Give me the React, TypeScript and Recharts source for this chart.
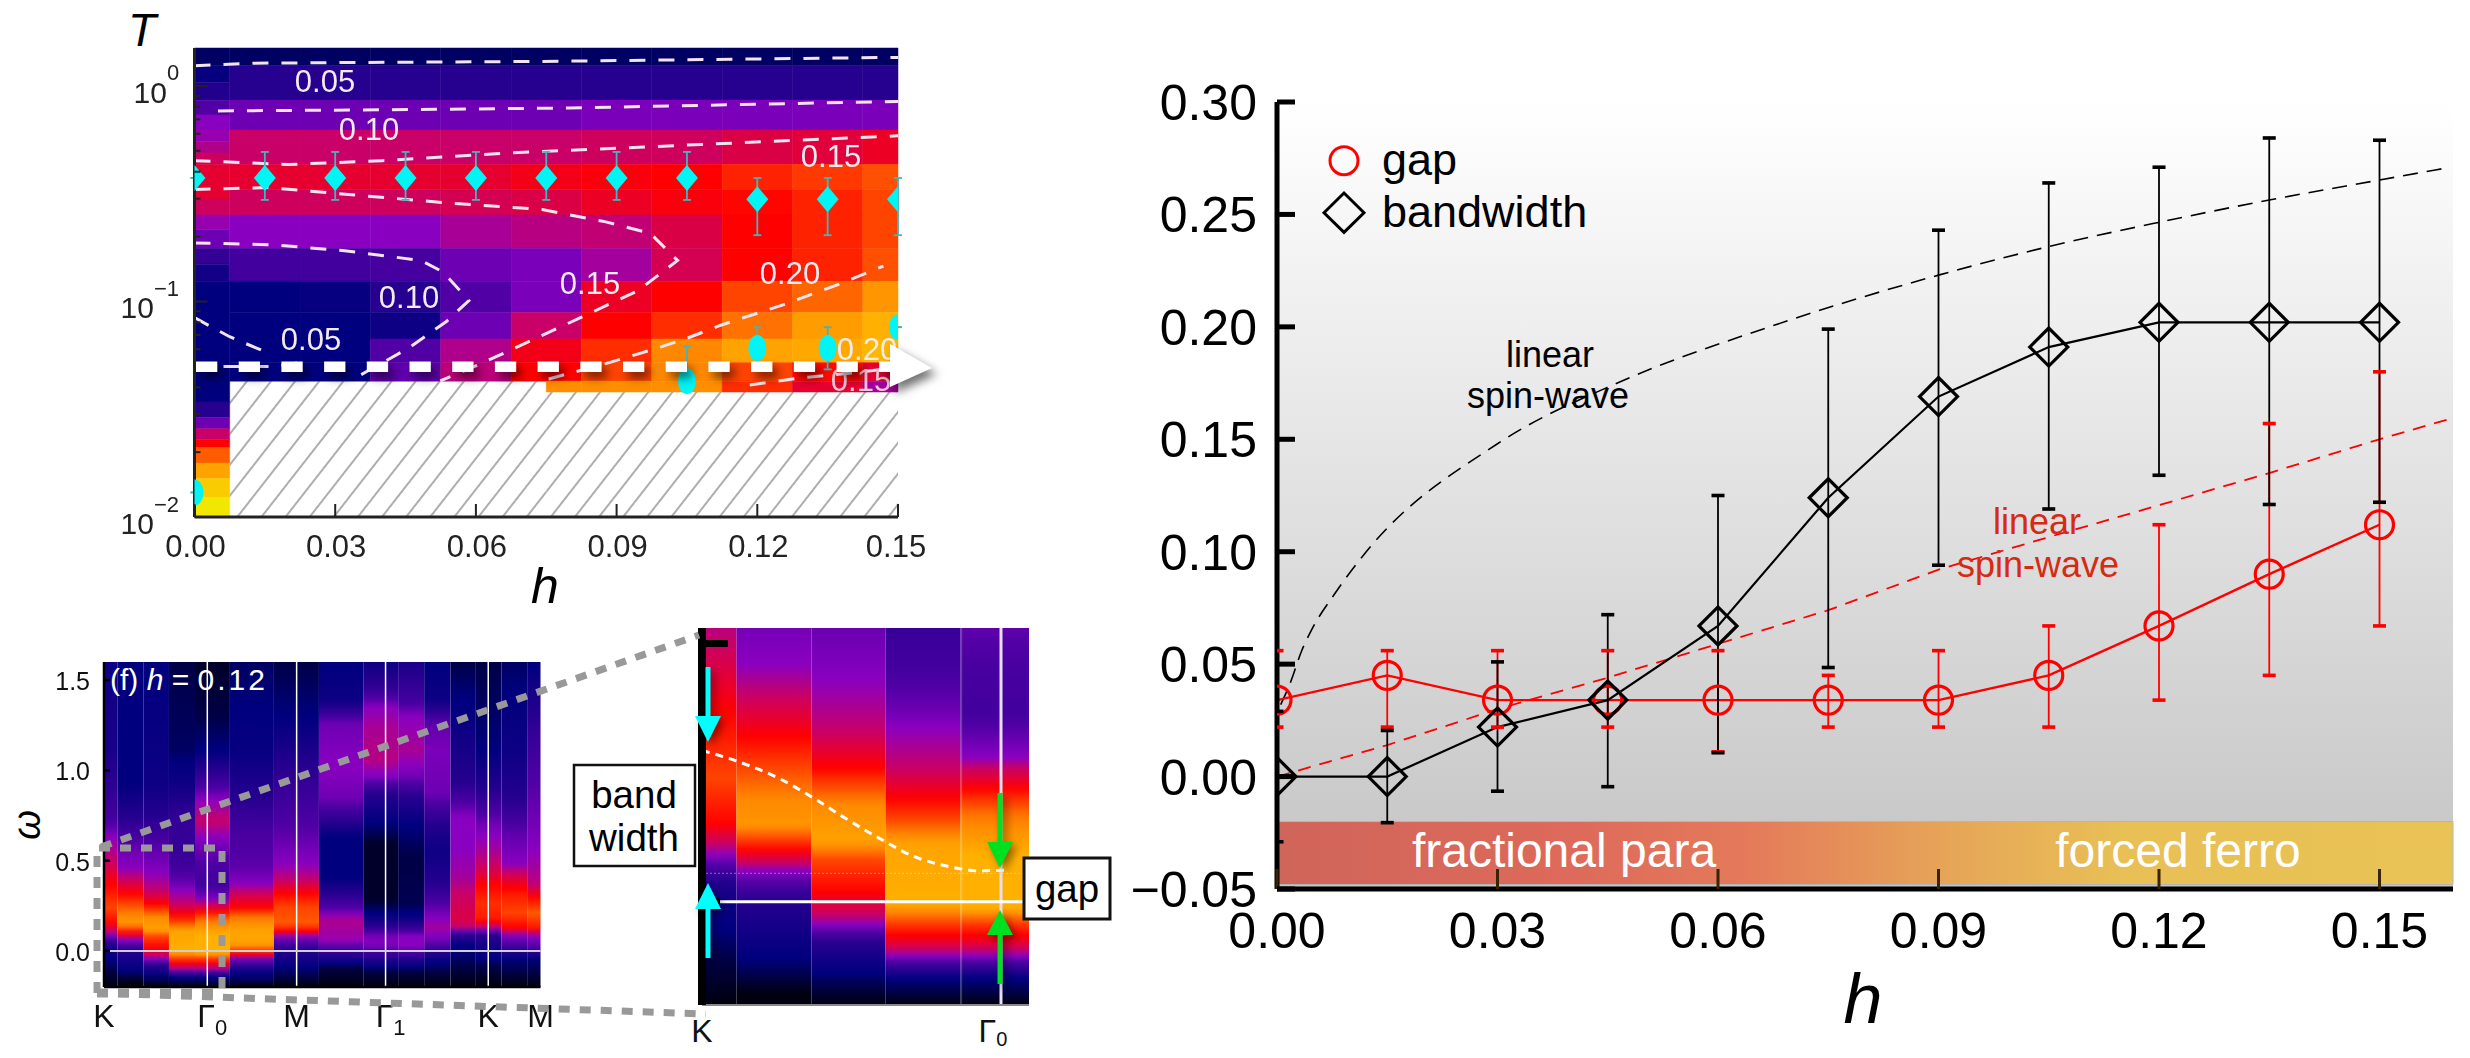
import React from 'react'
import { ComposedChart, Line, XAxis, YAxis, ReferenceArea, ReferenceLine, ErrorBar } from 'recharts'

const FONT = '"Liberation Sans", Arial, sans-serif'

// ---------- right panel: gap and bandwidth against h ----------
const fields = [0, 0.015, 0.03, 0.045, 0.06, 0.075, 0.09, 0.105, 0.12, 0.135, 0.15]
const gap = [0.034, 0.045, 0.034, 0.034, 0.034, 0.034, 0.034, 0.045, 0.067, 0.09, 0.112]
const gapHigh = [0.056, 0.056, 0.056, 0.056, 0.056, 0.045, 0.056, 0.067, 0.112, 0.157, 0.18]
const gapLow = [0.022, 0.022, 0.022, 0.022, 0.011, 0.022, 0.022, 0.022, 0.034, 0.045, 0.067]
const bandwidth = [0, 0, 0.022, 0.034, 0.067, 0.124, 0.169, 0.191, 0.202, 0.202, 0.202]
const bandHigh = [0.029, 0.0205, 0.051, 0.072, 0.125, 0.199, 0.243, 0.264, 0.271, 0.284, 0.283]
const bandLow = [-0.029, -0.0205, -0.0065, -0.0045, 0.0106, 0.0485, 0.094, 0.119, 0.134, 0.121, 0.122]
const spinWaveBand = [
  { h: 0.0005, y: 0.032 }, { h: 0.0018, y: 0.0416 }, { h: 0.0034, y: 0.0563 }, { h: 0.0047, y: 0.0652 },
  { h: 0.0079, y: 0.0815 }, { h: 0.0116, y: 0.0978 }, { h: 0.03, y: 0.148 }, { h: 0.0467, y: 0.1756 },
  { h: 0.067, y: 0.2 }, { h: 0.09, y: 0.223 }, { h: 0.105, y: 0.2357 }, { h: 0.12, y: 0.2465 },
  { h: 0.135, y: 0.2564 }, { h: 0.15, y: 0.2653 }, { h: 0.159, y: 0.2706 },
]
const spinWaveGap = [
  { h: 0, y: 0 }, { h: 0.015, y: 0.014 }, { h: 0.03, y: 0.03 }, { h: 0.045, y: 0.044 }, { h: 0.06, y: 0.059 },
  { h: 0.075, y: 0.074 }, { h: 0.09, y: 0.092 }, { h: 0.105, y: 0.1065 }, { h: 0.12, y: 0.1207 },
  { h: 0.135, y: 0.135 }, { h: 0.15, y: 0.15 }, { h: 0.1595, y: 0.159 },
]
const hTicks = [0, 0.03, 0.06, 0.09, 0.12, 0.15]
const energyTicks = [-0.05, 0, 0.05, 0.1, 0.15, 0.2, 0.25, 0.3]

const mainRows = fields.map((h, i) => ({
  h,
  gap: gap[i],
  gapHigh: gapHigh[i],
  gapLow: gapLow[i],
  gapErr: [gap[i] - gapLow[i], gapHigh[i] - gap[i]],
  bandwidth: bandwidth[i],
  bandHigh: bandHigh[i],
  bandLow: bandLow[i],
  bandErr: [bandwidth[i] - bandLow[i], bandHigh[i] - bandwidth[i]],
}))

// ---------- top left: T-h map ----------
const rowEdges = [1.5, 1.24, 0.86, 0.625, 0.432, 0.33, 0.252, 0.176, 0.124, 0.089, 0.067, 0.052, 0.0427, 0.038]
const mapValues = [
  [0.015, 0.015, 0.015, 0.015, 0.015, 0.015, 0.015, 0.015, 0.015, 0.015],
  [0.05, 0.05, 0.05, 0.05, 0.05, 0.05, 0.05, 0.05, 0.05, 0.05],
  [0.09, 0.09, 0.09, 0.09, 0.09, 0.095, 0.095, 0.095, 0.095, 0.095],
  [0.125, 0.125, 0.125, 0.125, 0.125, 0.13, 0.13, 0.14, 0.145, 0.155],
  [0.15, 0.15, 0.15, 0.15, 0.16, 0.165, 0.17, 0.185, 0.195, 0.205],
  [0.13, 0.13, 0.13, 0.135, 0.14, 0.155, 0.165, 0.172, 0.185, 0.2],
  [0.1, 0.1, 0.1, 0.112, 0.118, 0.122, 0.14, 0.17, 0.185, 0.2],
  [0.07, 0.07, 0.072, 0.09, 0.095, 0.11, 0.135, 0.17, 0.185, 0.205],
  [0.02, 0.025, 0.05, 0.08, 0.095, 0.155, 0.17, 0.2, 0.215, 0.24],
  [0.02, 0.02, 0.03, 0.09, 0.125, 0.17, 0.19, 0.22, 0.245, 0.26],
  [0.02, 0.02, 0.08, 0.115, 0.16, 0.19, 0.23, 0.25, 0.255, 0.265],
  [0.02, 0.02, 0.085, 0.12, 0.17, 0.2, 0.23, 0.2, 0.175, 0.15],
  [null, null, null, null, 0.235, 0.235, 0.235, 0.19, 0.15, 0.11],
]
const firstColEdges = [1.5, 1.24, 1.04, 0.858, 0.734, 0.624, 0.552, 0.489, 0.432, 0.299, 0.252, 0.215, 0.176, 0.149, 0.124, 0.0342, 0.029, 0.0257, 0.0228, 0.021, 0.0178, 0.0151, 0.0123, 0.01]
const firstColValues = [0.015, 0.025, 0.045, 0.08, 0.1, 0.105, 0.115, 0.13, 0.15, 0.13, 0.105, 0.09, 0.06, 0.035, 0.02, 0.05, 0.09, 0.125, 0.17, 0.21, 0.25, 0.28, 0.3]

const contours = [
  [{ h: 0, T: 1.24 }, { h: 0.0129, T: 1.276 }, { h: 0.074, T: 1.3 }, { h: 0.15, T: 1.357 }],
  [{ h: 0.005, T: 0.766 }, { h: 0.04, T: 0.775 }, { h: 0.08, T: 0.79 }, { h: 0.15, T: 0.848 }],
  [{ h: 0, T: 0.45 }, { h: 0.02, T: 0.432 }, { h: 0.04, T: 0.45 }, { h: 0.067, T: 0.489 }, { h: 0.108, T: 0.535 }, { h: 0.15, T: 0.587 }],
  [{ h: 0, T: 0.331 }, { h: 0.0156, T: 0.338 }, { h: 0.0347, T: 0.311 }, { h: 0.0537, T: 0.287 }, { h: 0.0741, T: 0.267 }, { h: 0.0877, T: 0.234 }, { h: 0.0972, T: 0.207 }, { h: 0.103, T: 0.155 }, { h: 0.0945, T: 0.112 }, { h: 0.0823, T: 0.0841 }, { h: 0.0673, T: 0.0594 }, { h: 0.0592, T: 0.0494 }, { h: 0.0524, T: 0.0428 }],
  [{ h: 0, T: 0.187 }, { h: 0.017, T: 0.183 }, { h: 0.032, T: 0.172 }, { h: 0.0483, T: 0.155 }, { h: 0.053, T: 0.137 }, { h: 0.0585, T: 0.101 }, { h: 0.0537, T: 0.0807 }, { h: 0.0456, T: 0.0607 }, { h: 0.0347, T: 0.0447 }, { h: 0.0333, T: 0.0428 }],
  [{ h: 0, T: 0.0841 }, { h: 0.0075, T: 0.0686 }, { h: 0.0143, T: 0.0594 }],
  [{ h: 0, T: 0.0499 }, { h: 0.017, T: 0.0499 }, { h: 0.0238, T: 0.0526 }],
  [{ h: 0.0755, T: 0.0437 }, { h: 0.0877, T: 0.0515 }, { h: 0.0972, T: 0.0594 }, { h: 0.1047, T: 0.0671 }, { h: 0.1122, T: 0.0776 }, { h: 0.1258, T: 0.097 }, { h: 0.138, T: 0.1216 }, { h: 0.1469, T: 0.146 }],
  [{ h: 0.1184, T: 0.041 }, { h: 0.129, T: 0.0441 }, { h: 0.142, T: 0.047 }, { h: 0.149, T: 0.0491 }],
]

const peakField = [0, 0.015, 0.03, 0.045, 0.06, 0.075, 0.09, 0.105, 0.12, 0.135, 0.15]
const peakT = [0.374, 0.374, 0.374, 0.374, 0.374, 0.374, 0.374, 0.374, 0.298, 0.298, 0.298]
const peakHigh = [0.374, 0.494, 0.494, 0.494, 0.494, 0.494, 0.494, 0.494, 0.374, 0.374, 0.374]
const peakLow = [0.374, 0.296, 0.296, 0.296, 0.296, 0.296, 0.296, 0.296, 0.203, 0.203, 0.203]
const lowField = [0, 0.105, 0.12, 0.135, 0.15]
const lowT = [0.013, 0.0427, 0.0608, 0.0608, 0.076]
const lowHigh = [0.013, 0.0618, 0.076, 0.076, 0.076]
const lowLow = [0.013, 0.038, 0.0484, 0.0484, 0.076]

const peakRows = peakField.map((h, i) => ({ h, T: peakT[i], err: [peakT[i] - peakLow[i], peakHigh[i] - peakT[i]] }))
const lowRows = lowField.map((h, i) => ({ h, T: lowT[i], err: [lowT[i] - lowLow[i], lowHigh[i] - lowT[i]] }))
const tTicks = [0.01, 0.02, 0.03, 0.04, 0.05, 0.06, 0.07, 0.08, 0.09, 0.1, 0.2, 0.3, 0.4, 0.5, 0.6, 0.7, 0.8, 0.9, 1]

// ---------- bottom left: spectrum along the k path ----------
const kEdges = [0, 0.129, 0.381, 0.629, 0.881, 1.219, 1.645, 2.081, 2.51, 2.848, 3.1, 3.355, 3.6, 3.848, 4.097, 4.226]
const kTicks = [0, 1, 1.865, 2.726, 3.72, 4.226]
const kLabels = [['K'], ['Γ', '0'], ['M'], ['Γ', '1'], ['K'], ['M']]
const omegaTicks = [0, 0.5, 1, 1.5]
// each column: [omega, intensity] from top to bottom
const spectrum: number[][][] = [
  [[1.6, 0.03], [1.11, 0.04], [0.74, 0.07], [0.63, 0.1], [0.5, 0.125], [0.37, 0.17], [0.24, 0.2], [0.15, 0.17], [0.09, 0.1], [0.04, 0.05], [0, 0.03], [-0.11, 0.01], [-0.2, 0]],
  [[1.6, 0.02], [0.93, 0.02], [0.74, 0.05], [0.56, 0.09], [0.46, 0.1], [0.4, 0.125], [0.32, 0.17], [0.26, 0.2], [0.2, 0.23], [0.15, 0.24], [0.1, 0.17], [0.06, 0.1], [0, 0.05], [-0.11, 0.02], [-0.18, 0]],
  [[1.6, 0.02], [0.93, 0.03], [0.74, 0.05], [0.56, 0.085], [0.43, 0.1], [0.33, 0.125], [0.26, 0.17], [0.19, 0.23], [0.12, 0.25], [0.08, 0.2], [0.02, 0.17], [-0.03, 0.12], [-0.08, 0.05], [-0.15, 0.015], [-0.2, 0]],
  [[1.6, 0.01], [1.11, 0.015], [0.93, 0.03], [0.74, 0.06], [0.56, 0.06], [0.46, 0.07], [0.37, 0.09], [0.26, 0.125], [0.2, 0.17], [0.16, 0.2], [0.11, 0.25], [0, 0.26], [-0.04, 0.2], [-0.08, 0.15], [-0.11, 0.09], [-0.15, 0.02], [-0.2, 0]],
  [[1.6, 0.005], [1.3, 0.01], [1.11, 0.02], [0.93, 0.07], [0.84, 0.1], [0.72, 0.125], [0.63, 0.1], [0.46, 0.075], [0.37, 0.07], [0.28, 0.1], [0.22, 0.17], [0.17, 0.22], [0.09, 0.26], [-0.01, 0.26], [-0.04, 0.2], [-0.08, 0.15], [-0.11, 0.09], [-0.15, 0.02], [-0.2, 0]],
  [[1.6, 0.015], [1.11, 0.025], [0.85, 0.05], [0.65, 0.075], [0.46, 0.085], [0.37, 0.1], [0.3, 0.14], [0.24, 0.17], [0.19, 0.22], [0.11, 0.25], [0.04, 0.25], [-0.01, 0.18], [-0.04, 0.1], [-0.11, 0.03], [-0.2, 0]],
  [[1.6, 0.01], [1.3, 0.02], [0.93, 0.06], [0.74, 0.075], [0.48, 0.1], [0.39, 0.125], [0.32, 0.17], [0.24, 0.2], [0.15, 0.21], [0.11, 0.17], [0.08, 0.1], [0, 0.05], [-0.09, 0.02], [-0.2, 0]],
  [[1.6, 0.02], [1.39, 0.03], [1.26, 0.09], [1.02, 0.1], [0.84, 0.09], [0.74, 0.06], [0.63, 0.02], [0.41, 0.02], [0.32, 0.05], [0.24, 0.08], [0.17, 0.115], [0.06, 0.105], [-0.01, 0.06], [-0.09, 0.01], [-0.2, 0]],
  [[1.6, 0.03], [1.45, 0.06], [1.35, 0.1], [1.24, 0.112], [1.06, 0.118], [0.96, 0.095], [0.87, 0.05], [0.71, 0.02], [0.59, 0.005], [0.28, 0.005], [0.21, 0.02], [0.14, 0.05], [0.09, 0.09], [0.04, 0.1], [-0.04, 0.05], [-0.11, 0.01], [-0.2, 0]],
  [[1.6, 0.04], [1.39, 0.07], [1.3, 0.1], [1.11, 0.112], [0.96, 0.09], [0.85, 0.05], [0.69, 0.02], [0.52, 0.01], [0.26, 0.012], [0.19, 0.025], [0.13, 0.06], [0.08, 0.1], [0.02, 0.1], [-0.04, 0.05], [-0.11, 0.01], [-0.2, 0]],
  [[1.6, 0.02], [1.39, 0.03], [1.26, 0.085], [1.11, 0.095], [0.87, 0.09], [0.71, 0.05], [0.56, 0.03], [0.37, 0.05], [0.22, 0.09], [0.13, 0.11], [0.04, 0.085], [-0.04, 0.03], [-0.11, 0.01], [-0.2, 0]],
  [[1.6, 0.01], [1.3, 0.025], [0.93, 0.05], [0.74, 0.1], [0.56, 0.1], [0.41, 0.11], [0.32, 0.125], [0.19, 0.14], [0.14, 0.13], [0.09, 0.06], [0.04, 0.025], [-0.09, 0.01], [-0.2, 0]],
  [[1.6, 0.01], [1.11, 0.02], [0.89, 0.05], [0.71, 0.09], [0.56, 0.11], [0.46, 0.13], [0.37, 0.17], [0.26, 0.19], [0.17, 0.18], [0.12, 0.1], [0.08, 0.05], [0, 0.03], [-0.09, 0.01], [-0.2, 0]],
  [[1.6, 0.015], [1.11, 0.03], [0.84, 0.05], [0.65, 0.085], [0.48, 0.1], [0.39, 0.15], [0.32, 0.18], [0.21, 0.2], [0.13, 0.17], [0.09, 0.1], [0.04, 0.08], [-0.04, 0.02], [-0.2, 0]],
  [[1.6, 0.02], [1.21, 0.06], [0.93, 0.08], [0.56, 0.1], [0.37, 0.12], [0.3, 0.17], [0.21, 0.21], [0.13, 0.18], [0.08, 0.1], [0.02, 0.08], [-0.04, 0.02], [-0.2, 0]],
]
const dispersion = [
  { k: 0.0134, w: 0.293 }, { k: 0.141, w: 0.27 }, { k: 0.275, w: 0.238 }, { k: 0.387, w: 0.201 }, { k: 0.499, w: 0.16 },
  { k: 0.611, w: 0.122 }, { k: 0.723, w: 0.088 }, { k: 0.835, w: 0.069 }, { k: 0.947, w: 0.06 }, { k: 1.03, w: 0.061 },
]
const gammaLines = [1, 1.865, 2.726, 3.72]

// ---------- colour scale shared by the heat maps ----------
const colorStops: [number, number, number, number][] = [
  [0, 0, 0, 14], [0.02, 0, 0, 126], [0.05, 38, 0, 143], [0.08, 80, 0, 165], [0.1, 138, 0, 192],
  [0.125, 200, 0, 104], [0.15, 230, 0, 48], [0.17, 255, 0, 0], [0.2, 255, 68, 0], [0.23, 255, 136, 0],
  [0.26, 255, 176, 0], [0.3, 240, 232, 0],
]
function heat(v: number) {
  let i = 0
  while (i < colorStops.length - 2 && v > colorStops[i + 1][0]) i++
  const a = colorStops[i]
  const b = colorStops[i + 1]
  const t = Math.max(0, Math.min(1, (v - a[0]) / (b[0] - a[0])))
  const c = [1, 2, 3].map(j => Math.round(a[j] + (b[j] - a[j]) * t))
  return `rgb(${c[0]},${c[1]},${c[2]})`
}
function intensityAt(col: number[][], w: number) {
  for (let i = 0; i < col.length - 1; i++) {
    if (w <= col[i][0] && w >= col[i + 1][0]) {
      const t = (col[i][0] - w) / (col[i][0] - col[i + 1][0])
      return col[i][1] + (col[i + 1][1] - col[i][1]) * t
    }
  }
  return col[col.length - 1][1]
}
function SpectrumGradient({ id, col, top, bottom }: { id: string; col: number[][]; top: number; bottom: number }) {
  const n = 70
  return (
    <linearGradient id={id} x1="0" y1="0" x2="0" y2="1">
      {Array.from({ length: n + 1 }, (_, i) => (
        <stop key={i} offset={i / n} stopColor={heat(intensityAt(col, top - ((top - bottom) * i) / n))} />
      ))}
    </linearGradient>
  )
}

// ---------- axis ticks ----------
const EnergyTick = (p: any) => (
  <g>
    <line x1={p.x} x2={p.x + 18} y1={p.y} y2={p.y} stroke="#000" strokeWidth={5} />
    <text x={p.x - 20} y={p.y + 18} textAnchor="end" fontSize={50} fontFamily={FONT} fill="#000">
      {p.payload.value < 0 ? '\u2212' : ''}{Math.abs(p.payload.value).toFixed(2)}
    </text>
  </g>
)
const EnergyTickRight = (p: any) => <line x1={p.x} x2={p.x - 18} y1={p.y} y2={p.y} stroke="#000" strokeWidth={5} />
const FieldTick = (p: any) => (
  <g>
    <line x1={p.x} x2={p.x} y1={p.y} y2={p.y - 20} stroke="#3a2400" strokeWidth={3} />
    <text x={p.x} y={p.y + 59} textAnchor="middle" fontSize={50} fontFamily={FONT} fill="#000">
      {p.payload.value.toFixed(2)}
    </text>
  </g>
)
const FieldTickTop = (p: any) => <line x1={p.x} x2={p.x} y1={p.y} y2={p.y + 19} stroke="#000" strokeWidth={5} />

const isDecade = (v: number) => v === 0.01 || v === 0.1 || v === 1
const TempTick = (p: any) => {
  const v = p.payload.value
  const sup = v === 1 ? '0' : v === 0.1 ? '\u22121' : '\u22122'
  const shift = v === 1 ? 17 : 16
  return (
    <g>
      <line x1={p.x} x2={p.x + (isDecade(v) ? 13 : 6)} y1={p.y} y2={p.y} stroke="#222" strokeWidth={2} />
      {isDecade(v) && (
        <text x={v === 1 ? p.x - 61 : p.x - 74} y={p.y + 17} fontSize={30} fontFamily={FONT} fill="#222">
          10<tspan dy={-shift - 6} fontSize={22}>{sup}</tspan>
        </text>
      )}
    </g>
  )
}
const TempTickRight = (p: any) => (
  <line x1={p.x} x2={p.x - (isDecade(p.payload.value) ? 10 : 5)} y1={p.y} y2={p.y} stroke="#222" strokeWidth={2} />
)
const MapFieldTick = (p: any) => (
  <g>
    <line x1={p.x} x2={p.x} y1={p.y} y2={p.y - 13} stroke="#222" strokeWidth={2} />
    <text x={p.payload.value === 0.15 ? p.x - 2 : p.x + 1} y={p.y + 40} textAnchor="middle" fontSize={31} fontFamily={FONT} fill="#222">
      {p.payload.value.toFixed(2)}
    </text>
  </g>
)
const KTick = (p: any) => {
  const lab = kLabels[p.index]
  return (
    <text x={p.x + (lab.length > 1 ? 5 : 0)} y={p.y + 40} textAnchor="middle" fontSize={32} fontFamily={FONT} fill="#111">
      {lab[0]}
      {lab[1] && <tspan dy={8} fontSize={22}>{lab[1]}</tspan>}
    </text>
  )
}
const OmegaTick = (p: any) => (
  <g>
    <line x1={p.x} x2={p.x + 6} y1={p.y} y2={p.y} stroke="#000" strokeWidth={2.5} />
    <text x={p.x - 14} y={p.y + 10} textAnchor="end" fontSize={25} fontFamily={FONT} fill="#111">{p.payload.value.toFixed(1)}</text>
  </g>
)
const ZoomKTick = (p: any) => (
  <text x={p.index ? p.x - 3 : p.x} y={p.y + 37} textAnchor="middle" fontSize={32} fontFamily={FONT} fill="#111">
    {p.index ? 'Γ' : 'K'}
    {p.index ? <tspan dy={4} fontSize={20}>0</tspan> : null}
  </text>
)
const ZoomOmegaTick = (p: any) => (
  <line x1={p.x} x2={p.x + (p.payload.value ? 26 : 18)} y1={p.y} y2={p.y} stroke="#000" strokeWidth={7} />
)

// ---------- markers ----------
const ringDot = (p: any) => <circle key={p.index} cx={p.cx} cy={p.cy} r={14} fill="none" stroke="#ff0000" strokeWidth={3.2} />
const diamondDot = (p: any) => (
  <path key={p.index} d={`M${p.cx - 19} ${p.cy}L${p.cx} ${p.cy - 19}L${p.cx + 19} ${p.cy}L${p.cx} ${p.cy + 19}Z`} fill="none" stroke="#000" strokeWidth={3.2} />
)
const redCap = (p: any) => <rect key={p.index} x={p.cx - 6.5} y={p.cy - 1.8} width={13} height={3.6} fill="#ff0000" />
const blackCap = (p: any) => <rect key={p.index} x={p.cx - 6.5} y={p.cy - 1.8} width={13} height={3.6} fill="#000" />
const cyanDiamond = (p: any) => (
  <path key={p.index} d={`M${p.cx - 11} ${p.cy}L${p.cx} ${p.cy - 13}L${p.cx + 11} ${p.cy}L${p.cx} ${p.cy + 13}Z`} fill="#00f5f5" />
)
const cyanOval = (p: any) => <ellipse key={p.index} cx={p.cx} cy={p.cy} rx={9} ry={13} fill="#00f5f5" />

function MainChart() {
  return (
    <div style={{ position: 'absolute', left: 1130, top: 70 }}>
      <ComposedChart width={1340} height={970} data={mainRows} margin={{ top: 32, right: 17, bottom: 51, left: 0 }}>
        <defs>
          <linearGradient id="plotBg" x1="0" y1="0" x2="0" y2="1">
            <stop offset="0" stopColor="#ffffff" />
            <stop offset="1" stopColor="#c4c4c4" />
          </linearGradient>
          <linearGradient id="phaseBand" x1="0" y1="0" x2="1" y2="0">
            <stop offset="0" stopColor="#d0655a" />
            <stop offset="0.25" stopColor="#dd6a5a" />
            <stop offset="0.4" stopColor="#e47a5a" />
            <stop offset="0.56" stopColor="#e6a358" />
            <stop offset="0.72" stopColor="#e8c055" />
            <stop offset="1" stopColor="#e8c355" />
          </linearGradient>
        </defs>
        <XAxis dataKey="h" type="number" domain={[0, 0.16]} allowDataOverflow ticks={hTicks} interval={0} height={100} axisLine={{ stroke: '#000', strokeWidth: 5 }} tickLine={false} tickSize={0} tickMargin={0} tick={FieldTick} />
        <XAxis xAxisId="top" orientation="top" dataKey="h" type="number" domain={[0, 0.16]} allowDataOverflow ticks={hTicks} interval={0} height={0} axisLine={{ stroke: '#000', strokeWidth: 5 }} tickLine={false} tickSize={0} tickMargin={0} tick={FieldTickTop} />
        <YAxis type="number" domain={[-0.05, 0.3]} allowDataOverflow ticks={energyTicks} interval={0} width={147} axisLine={{ stroke: '#000', strokeWidth: 5 }} tickLine={false} tickSize={0} tickMargin={0} tick={EnergyTick} />
        <YAxis yAxisId="right" orientation="right" type="number" domain={[-0.05, 0.3]} allowDataOverflow ticks={energyTicks} interval={0} width={0} axisLine={{ stroke: '#000', strokeWidth: 5 }} tickLine={false} tickSize={0} tickMargin={0} tick={EnergyTickRight} />
        <ReferenceArea x1={0} x2={0.16} y1={-0.05} y2={0.3} fill="url(#plotBg)" fillOpacity={1} stroke="none" />
        <ReferenceArea x1={0} x2={0.16} y1={-0.048} y2={-0.02} fill="url(#phaseBand)" fillOpacity={1} stroke="#b5b5b5" strokeWidth={1} />
        <Line data={spinWaveBand} dataKey="y" type="monotone" stroke="#000" strokeWidth={1.6} strokeDasharray="15 9" dot={false} isAnimationActive={false} />
        <Line data={spinWaveGap} dataKey="y" type="linear" stroke="#ff0000" strokeWidth={1.8} strokeDasharray="13 9" dot={false} isAnimationActive={false} />
        <Line dataKey="gap" type="linear" stroke="#ff0000" strokeWidth={2.4} dot={ringDot} isAnimationActive={false}>
          <ErrorBar dataKey="gapErr" width={0} stroke="#ff0000" strokeWidth={1.8} direction="y" isAnimationActive={false} />
        </Line>
        <Line dataKey="gapHigh" stroke="none" dot={redCap} isAnimationActive={false} />
        <Line dataKey="gapLow" stroke="none" dot={redCap} isAnimationActive={false} />
        <Line dataKey="bandwidth" type="linear" stroke="#000" strokeWidth={2.2} dot={diamondDot} isAnimationActive={false}>
          <ErrorBar dataKey="bandErr" width={0} stroke="#000" strokeWidth={1.8} direction="y" isAnimationActive={false} />
        </Line>
        <Line dataKey="bandHigh" stroke="none" dot={blackCap} isAnimationActive={false} />
        <Line dataKey="bandLow" stroke="none" dot={blackCap} isAnimationActive={false} />
      </ComposedChart>
    </div>
  )
}

function MapChart() {
  const colEdge = (i: number) => Math.min(0.15, Math.max(0, (i - 0.5) * 0.015))
  return (
    <div style={{ position: 'absolute', left: 100, top: 30, filter: 'blur(0.7px)' }}>
      <ComposedChart width={860} height={560} margin={{ top: 18, right: 62, bottom: 13, left: 0 }}>
        <defs>
          <pattern id="hatch" width={19} height={19} patternUnits="userSpaceOnUse" patternTransform="rotate(38)">
            <rect width={19} height={19} fill="#fff" />
            <line x1={9} x2={9} y1={0} y2={19} stroke="#777" strokeWidth={1.2} />
          </pattern>
        </defs>
        <XAxis dataKey="h" type="number" domain={[0, 0.15]} allowDataOverflow ticks={hTicks} interval={0} height={60} axisLine={{ stroke: '#222', strokeWidth: 3 }} tickLine={false} tickSize={0} tickMargin={0} tick={MapFieldTick} />
        <XAxis xAxisId="top" orientation="top" dataKey="h" type="number" domain={[0, 0.15]} allowDataOverflow height={0} axisLine={{ stroke: '#222', strokeWidth: 3 }} tick={false} tickLine={false} />
        <YAxis scale="log" type="number" domain={[0.01, 1.5]} allowDataOverflow ticks={tTicks} interval={0} width={94.5} axisLine={{ stroke: '#222', strokeWidth: 3 }} tickLine={false} tickSize={0} tickMargin={0} tick={TempTick} />
        <YAxis yAxisId="right" orientation="right" scale="log" type="number" domain={[0.01, 1.5]} allowDataOverflow ticks={tTicks} interval={0} width={0} axisLine={{ stroke: '#222', strokeWidth: 3 }} tickLine={false} tickSize={0} tickMargin={0} tick={TempTickRight} />
        <ReferenceArea x1={0.0075} x2={0.075} y1={0.01} y2={0.0427} fill="url(#hatch)" fillOpacity={1} stroke="none" />
        <ReferenceArea x1={0.075} x2={0.15} y1={0.01} y2={0.038} fill="url(#hatch)" fillOpacity={1} stroke="none" />
        {firstColValues.map((v, i) => (
          <ReferenceArea key={'c' + i} x1={0} x2={0.0075} y1={firstColEdges[i + 1]} y2={firstColEdges[i]} fill={heat(v)} fillOpacity={1} stroke={heat(v)} strokeWidth={0.5} />
        ))}
        {mapValues.map((row, r) =>
          row.map((v, c) =>
            v === null ? null : (
              <ReferenceArea
                key={r + '-' + c}
                x1={r === 12 && c === 4 ? 0.075 : colEdge(c + 1)}
                x2={colEdge(c + 2)}
                y1={rowEdges[r + 1]}
                y2={rowEdges[r]}
                fill={heat(v)}
                fillOpacity={1}
                stroke={heat(v)}
                strokeWidth={0.5}
              />
            )
          )
        )}
        {contours.map((c, i) => (
          <Line key={i} data={c} dataKey="T" type="linear" stroke="#f3e4f0" strokeWidth={3} strokeDasharray="16 13" dot={false} isAnimationActive={false} />
        ))}
        <Line data={peakRows} dataKey="T" stroke="none" dot={cyanDiamond} isAnimationActive={false}>
          <ErrorBar dataKey="err" width={4} stroke="#46b4bc" strokeWidth={1.8} direction="y" isAnimationActive={false} />
        </Line>
        <Line data={lowRows} dataKey="T" stroke="none" dot={cyanOval} isAnimationActive={false}>
          <ErrorBar dataKey="err" width={4} stroke="#46b4bc" strokeWidth={1.8} direction="y" isAnimationActive={false} />
        </Line>
      </ComposedChart>
    </div>
  )
}

function SpectrumChart() {
  return (
    <div style={{ position: 'absolute', left: 20, top: 640, filter: 'blur(0.4px)' }}>
      <ComposedChart width={560} height={410} margin={{ top: 22, right: 39.5, bottom: 18, left: 0 }}>
        <defs>
          {spectrum.map((col, i) => <SpectrumGradient key={i} id={'spec' + i} col={col} top={1.6} bottom={-0.2} />)}
        </defs>
        <XAxis dataKey="k" type="number" domain={[0, 4.226]} allowDataOverflow ticks={kTicks} interval={0} height={45} axisLine={{ stroke: '#000', strokeWidth: 2.5 }} tickLine={false} tickSize={0} tickMargin={0} tick={KTick} />
        <XAxis xAxisId="top" orientation="top" dataKey="k" type="number" domain={[0, 4.226]} allowDataOverflow height={0} axisLine={{ stroke: '#000', strokeWidth: 2.5 }} tick={false} tickLine={false} />
        <YAxis type="number" domain={[-0.2, 1.6]} allowDataOverflow ticks={omegaTicks} interval={0} width={84} axisLine={{ stroke: '#000', strokeWidth: 2.5 }} tickLine={false} tickSize={0} tickMargin={0} tick={OmegaTick} />
        {spectrum.map((_, i) => (
          <ReferenceArea key={i} x1={kEdges[i]} x2={kEdges[i + 1]} y1={-0.2} y2={1.6} fill={`url(#spec${i})`} fillOpacity={1} stroke="none" />
        ))}
        {gammaLines.map(k => <ReferenceLine key={k} x={k} stroke="#fff" strokeWidth={1.5} />)}
        <ReferenceLine y={0} stroke="#cfcfcf" strokeWidth={2} />
      </ComposedChart>
    </div>
  )
}

function ZoomChart() {
  const columns = spectrum.slice(0, 5)
  const kStart = 0.0134
  return (
    <div style={{ position: 'absolute', left: 640, top: 610 }}>
      <ComposedChart width={400} height={448} margin={{ top: 18, right: 11, bottom: 0, left: 0 }}>
        <defs>
          {columns.map((col, i) => <SpectrumGradient key={i} id={'zoom' + i} col={col} top={0.53} bottom={-0.2} />)}
        </defs>
        <XAxis dataKey="k" type="number" domain={[kStart, 1.111]} allowDataOverflow ticks={[kStart, 1]} interval={0} height={53} axisLine={{ stroke: '#888', strokeWidth: 2 }} tickLine={false} tickSize={0} tickMargin={0} tick={ZoomKTick} />
        <YAxis type="number" domain={[-0.2, 0.53]} allowDataOverflow ticks={[0, 0.5]} interval={0} width={62} axisLine={{ stroke: '#000', strokeWidth: 8 }} tickLine={false} tickSize={0} tickMargin={0} tick={ZoomOmegaTick} />
        {columns.map((_, i) => (
          <ReferenceArea key={i} x1={Math.max(kEdges[i], kStart)} x2={Math.min(kEdges[i + 1], 1.111)} y1={-0.2} y2={0.53} fill={`url(#zoom${i})`} fillOpacity={1} stroke="none" />
        ))}
        <ReferenceLine x={1.017} stroke="#e8e0f0" strokeWidth={3} />
        <ReferenceLine x={0.885} stroke="#ffffff" strokeOpacity={0.25} strokeWidth={1} />
        <ReferenceLine y={0} stroke="#fff" strokeWidth={3} />
        <ReferenceLine y={0.055} stroke="#fff" strokeOpacity={0.4} strokeWidth={1} strokeDasharray="2 2" />
        <Line data={dispersion} dataKey="w" type="monotone" stroke="#fff" strokeWidth={3} strokeDasharray="8 6" dot={false} isAnimationActive={false} />
      </ComposedChart>
    </div>
  )
}

const Arrow = ({ x, y1, y2, tip, color }: { x: number; y1: number; y2: number; tip: number; color: string }) => {
  // shaft from y1 to the head base y2, head ends at tip
  return (
    <g style={{ filter: 'drop-shadow(4px 4px 4px rgba(0,0,0,0.45))' }}>
      <rect x={x - 2.5} y={Math.min(y1, y2)} width={5} height={Math.abs(y2 - y1)} fill={color} />
      <path d={`M${x - 13} ${y2}L${x + 13} ${y2}L${x} ${tip}Z`} fill={color} />
    </g>
  )
}

function Overlay() {
  const t = { fontFamily: FONT }
  const mapLabels = [
    ['0.05', 325, 92], ['0.10', 369, 140], ['0.15', 831, 167], ['0.10', 409, 308],
    ['0.15', 590, 294], ['0.20', 790, 284], ['0.05', 311, 350],
  ] as [string, number, number][]
  return (
    <svg width={2470} height={1058} style={{ position: 'absolute', left: 0, top: 0 }}>
      {/* top left */}
      <g style={{ filter: 'blur(0.6px)' }}>
        {mapLabels.map(([s, x, y], i) => (
          <text key={i} x={x} y={y} textAnchor="middle" fontSize={31} fill="#f4eaf4" {...t}>{s}</text>
        ))}
        <text x={867} y={360} textAnchor="middle" fontSize={31} fill="#f4eaf4" {...t}>0.20</text>
        <text x={861} y={391} textAnchor="middle" fontSize={31} fill="#f4c8d8" {...t}>0.15</text>
      </g>
      <text x={128} y={46} fontSize={46} fontStyle="italic" {...t}>T</text>
      <text x={531} y={603} fontSize={50} fontStyle="italic" {...t}>h</text>
      <g style={{ filter: 'drop-shadow(5px 6px 5px rgba(0,0,0,0.55))' }}>
        <line x1={196} x2={890} y1={366.7} y2={366.7} stroke="#fff" strokeWidth={10.5} strokeDasharray="21.3 21.4" />
        <path d="M890 344L932 368L890 387Z" fill="#fff" />
      </g>

      {/* bottom left */}
      <text transform="translate(40,825) rotate(-90)" textAnchor="middle" fontSize={38} fontStyle="italic" {...t}>ω</text>
      <text x={110} y={690} fontSize={30} fill="#fff" {...t}>
        (f)  <tspan fontStyle="italic">h</tspan> = <tspan letterSpacing={3}>0.12</tspan>
      </text>
      <g stroke="#999" strokeWidth={7} fill="none" strokeDasharray="11 10">
        <line x1={101} y1={847} x2={699} y2={635} />
        <line x1={97} y1={993} x2={706} y2={1014} />
        <polyline points="97,993 97,848 222,848 222,988" />
        <line x1={97} y1={993} x2={222} y2={993} strokeWidth={9} />
      </g>

      {/* inset */}
      <Arrow x={708} y1={667} y2={716} tip={742} color="#00ffff" />
      <Arrow x={708} y1={958} y2={909} tip={883} color="#00ffff" />
      <Arrow x={1000} y1={793} y2={842} tip={868} color="#00e020" />
      <Arrow x={1000} y1={984} y2={935} tip={910} color="#00e020" />
      <rect x={574} y={765} width={121} height={101} fill="#fff" stroke="#111" strokeWidth={2.5} />
      <text x={634} y={808} textAnchor="middle" fontSize={38.5} {...t}>band</text>
      <text x={634} y={851} textAnchor="middle" fontSize={38.5} {...t}>width</text>
      <rect x={1024} y={858} width={86} height={61} fill="#fff" stroke="#111" strokeWidth={3} />
      <text x={1067} y={902} textAnchor="middle" fontSize={38.5} {...t}>gap</text>

      {/* right panel */}
      <circle cx={1344} cy={160.7} r={14} fill="none" stroke="#ff0000" strokeWidth={3} />
      <path d="M1324 212.7L1344 193L1364 212.7L1344 232.4Z" fill="none" stroke="#000" strokeWidth={3} />
      <text x={1382} y={175} fontSize={45} {...t}>gap</text>
      <text x={1382} y={227} fontSize={45} {...t}>bandwidth</text>
      <text x={1550} y={367} textAnchor="middle" fontSize={36} {...t}>linear</text>
      <text x={1548} y={408} textAnchor="middle" fontSize={36} {...t}>spin-wave</text>
      <text x={2037} y={534} textAnchor="middle" fontSize={36} fill="#d62a12" {...t}>linear</text>
      <text x={2038} y={577} textAnchor="middle" fontSize={36} fill="#d62a12" {...t}>spin-wave</text>
      <text x={1564} y={867} textAnchor="middle" fontSize={48} fill="#fff" {...t}>fractional para</text>
      <text x={2178} y={867} textAnchor="middle" fontSize={48} fill="#fff" {...t}>forced ferro</text>
      <text x={1863} y={1023} textAnchor="middle" fontSize={70} fontStyle="italic" {...t}>h</text>
    </svg>
  )
}

export default function App() {
  return (
    <div style={{ position: 'absolute', left: 0, top: 0, width: 2470, height: 1058, overflow: 'hidden', background: '#fff' }}>
      <MapChart />
      <SpectrumChart />
      <ZoomChart />
      <MainChart />
      <Overlay />
    </div>
  )
}
